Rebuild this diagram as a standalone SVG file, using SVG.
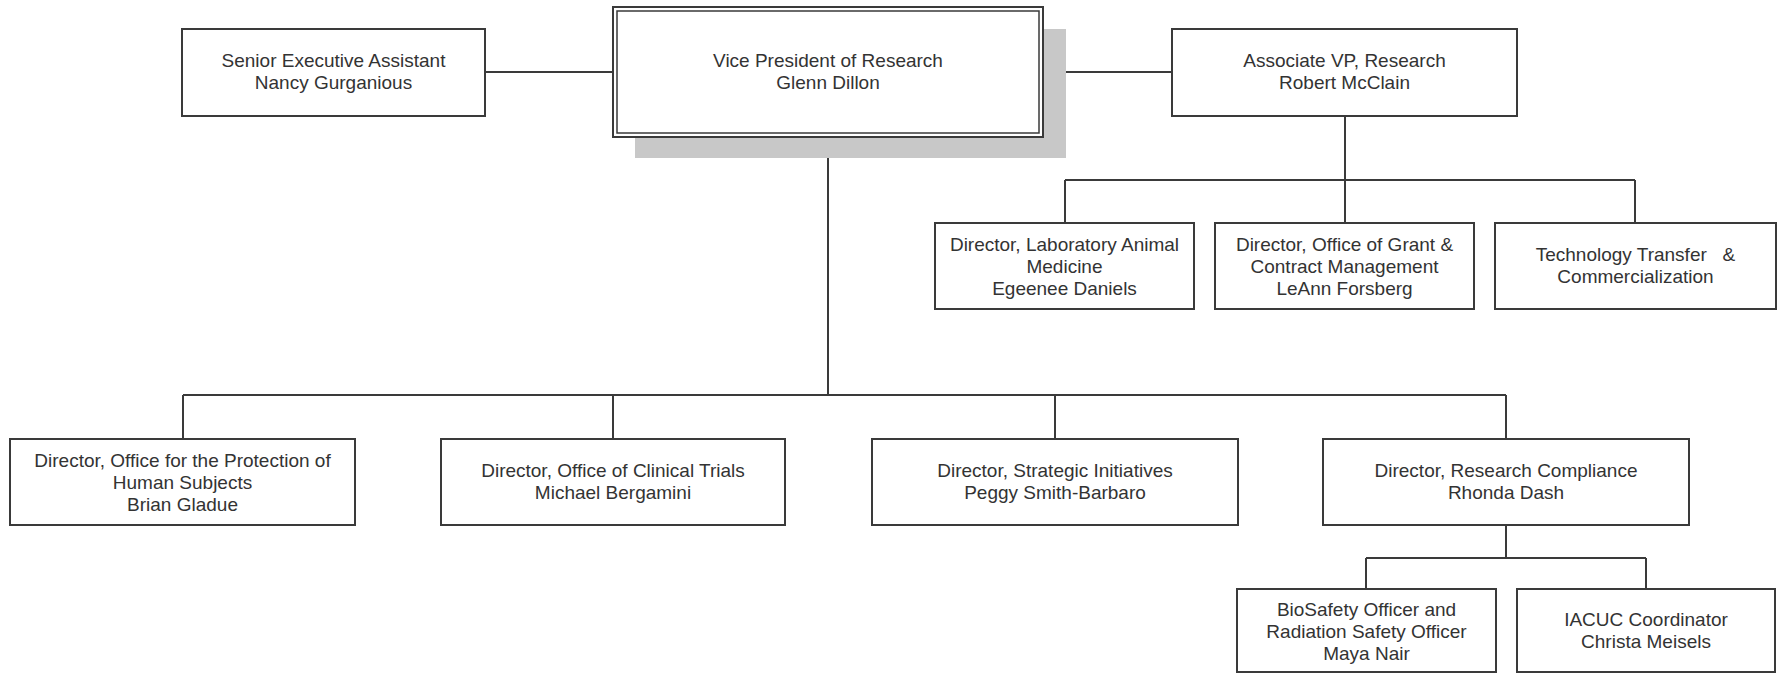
<svg xmlns="http://www.w3.org/2000/svg" width="1783" height="674" viewBox="0 0 1783 674">
<style>
.box{fill:#fff;stroke:#3a3a3a;stroke-width:2}
.t{font-family:"Liberation Sans",Arial,sans-serif;font-size:19px;fill:#333;text-anchor:middle}
.c{fill:none;stroke:#3a3a3a;stroke-width:2}
</style>
<rect width="1783" height="674" fill="#fff"/>
<g id="connectors">
<path class="c" d="M485 72H613M1043 72H1172"/>
<path class="c" d="M828 137V395M183 395H1506M183 395V439M613 395V439M1055 395V439M1506 395V439"/>
<path class="c" d="M1345 116V180M1065 180H1635M1065 180V223M1345 180V223M1635 180V223"/>
<path class="c" d="M1506 525V558M1366 558H1646M1366 558V589M1646 558V589"/>
</g>
<g id="senior">
<rect class="box" x="182" y="29" width="303" height="87"/>
<text class="t" x="333.5" y="67">Senior Executive Assistant</text>
<text class="t" x="333.5" y="89">Nancy Gurganious</text>
</g>
<g id="vp">
<rect x="635" y="29" width="431" height="129" fill="#c8c8c8"/>
<rect class="box" x="613" y="7" width="430" height="130"/>
<rect x="617" y="11" width="422" height="122" fill="none" stroke="#3a3a3a" stroke-width="1.5"/>
<text class="t" x="828" y="67">Vice President of Research</text>
<text class="t" x="828" y="89">Glenn Dillon</text>
</g>
<g id="assoc">
<rect class="box" x="1172" y="29" width="345" height="87"/>
<text class="t" x="1344.5" y="67">Associate VP, Research</text>
<text class="t" x="1344.5" y="89">Robert McClain</text>
</g>
<g id="lab">
<rect class="box" x="935" y="223" width="259" height="86"/>
<text class="t" x="1064.5" y="251">Director, Laboratory Animal</text>
<text class="t" x="1064.5" y="273">Medicine</text>
<text class="t" x="1064.5" y="295">Egeenee Daniels</text>
</g>
<g id="grant">
<rect class="box" x="1215" y="223" width="259" height="86"/>
<text class="t" x="1344.5" y="251">Director, Office of Grant &amp;</text>
<text class="t" x="1344.5" y="273">Contract Management</text>
<text class="t" x="1344.5" y="295">LeAnn Forsberg</text>
</g>
<g id="tech">
<rect class="box" x="1495" y="223" width="281" height="86"/>
<text class="t" x="1635.5" y="261" style="white-space:pre">Technology Transfer   &amp;</text>
<text class="t" x="1635.5" y="283">Commercialization</text>
</g>
<g id="ophs">
<rect class="box" x="10" y="439" width="345" height="86"/>
<text class="t" x="182.5" y="467">Director, Office for the Protection of</text>
<text class="t" x="182.5" y="489">Human Subjects</text>
<text class="t" x="182.5" y="511">Brian Gladue</text>
</g>
<g id="clinical">
<rect class="box" x="441" y="439" width="344" height="86"/>
<text class="t" x="613" y="477">Director, Office of Clinical Trials</text>
<text class="t" x="613" y="499">Michael Bergamini</text>
</g>
<g id="strategic">
<rect class="box" x="872" y="439" width="366" height="86"/>
<text class="t" x="1055" y="477">Director, Strategic Initiatives</text>
<text class="t" x="1055" y="499">Peggy Smith-Barbaro</text>
</g>
<g id="compliance">
<rect class="box" x="1323" y="439" width="366" height="86"/>
<text class="t" x="1506" y="477">Director, Research Compliance</text>
<text class="t" x="1506" y="499">Rhonda Dash</text>
</g>
<g id="biosafety">
<rect class="box" x="1237" y="589" width="259" height="83"/>
<text class="t" x="1366.5" y="616">BioSafety Officer and</text>
<text class="t" x="1366.5" y="638">Radiation Safety Officer</text>
<text class="t" x="1366.5" y="660">Maya Nair</text>
</g>
<g id="iacuc">
<rect class="box" x="1517" y="589" width="258" height="83"/>
<text class="t" x="1646" y="626">IACUC Coordinator</text>
<text class="t" x="1646" y="648">Christa Meisels</text>
</g>
</svg>
